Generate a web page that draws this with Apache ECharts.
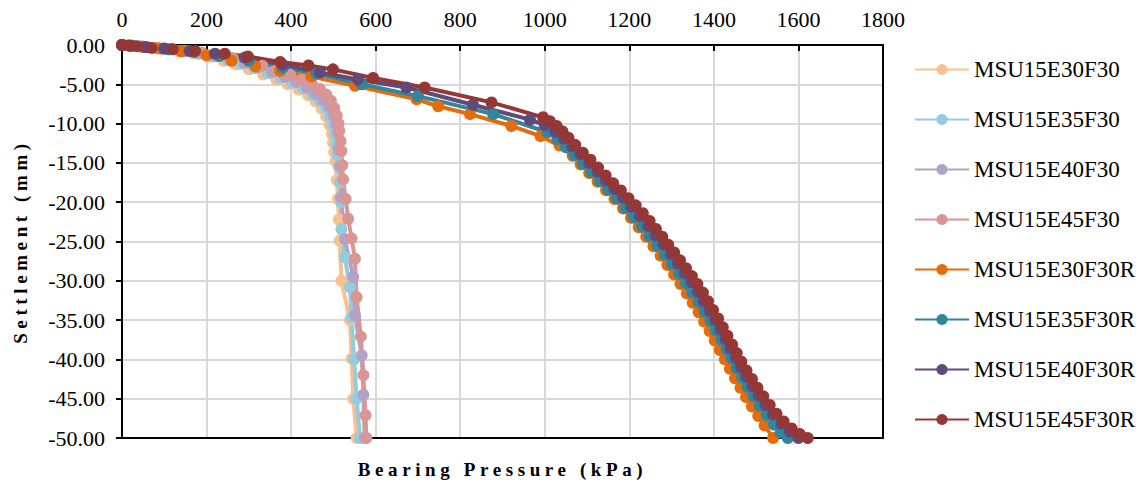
<!DOCTYPE html>
<html>
<head>
<meta charset="utf-8">
<script src="https://cdn.jsdelivr.net/npm/echarts@6/dist/echarts.min.js"></script>
<style>
  html, body { margin: 0; padding: 0; background: #fff; }
  #chart { width: 1147px; height: 484px; }
  /* axis titles are spaced out in the original */
  #chart text[style*="bold"] { letter-spacing: 4.6px; }
</style>
</head>
<body>
<div id="chart"></div>
<script>
// [bearing pressure kPa, settlement mm]
const e30f30 = [[0,0],[18,-0.1],[40,-0.2],[70,-0.35],[100,-0.55],[135,-0.8],[170,-1.1],[205,-1.5],[240,-2.0],[270,-2.5],[300,-3.1],[334,-3.75],[365,-4.4],[392,-5.0],[418,-5.7],[440,-6.4],[458,-7.2],[472,-8.1],[483,-9.1],[491,-10.2],[496,-11.3],[499,-12.4],[502,-13.6],[505,-14.8],[508,-17.2],[511,-19.6],[513,-22.2],[515,-24.9],[519,-30],[539,-35],[543,-39.9],[547,-45],[555,-50]];
const e35f30 = [[0,0],[20,-0.1],[45,-0.2],[75,-0.35],[110,-0.55],[145,-0.8],[180,-1.1],[215,-1.45],[250,-1.9],[280,-2.4],[312,-2.95],[345,-3.6],[375,-4.2],[402,-4.8],[428,-5.5],[450,-6.3],[468,-7.1],[482,-8.0],[492,-9.1],[499,-10.2],[504,-11.4],[507,-12.6],[510,-14.0],[513,-15.5],[516,-17.5],[518,-20.0],[519,-23.4],[527,-27],[539,-30.8],[543,-34.6],[549,-40],[555,-45],[563,-50]];
const e40f30 = [[0,0],[20,-0.1],[45,-0.2],[80,-0.35],[115,-0.55],[150,-0.8],[185,-1.05],[220,-1.4],[255,-1.8],[290,-2.3],[322,-2.85],[355,-3.45],[385,-4.05],[412,-4.7],[437,-5.4],[458,-6.2],[476,-7.0],[490,-7.9],[500,-8.9],[507,-10.0],[511,-11.2],[513,-13.3],[516,-15.4],[518,-19.4],[527,-24.7],[547,-29.5],[551,-34.4],[567,-39.5],[571,-44.5],[574,-50]];
const e45f30 = [[0,0],[22,-0.1],[48,-0.2],[82,-0.35],[118,-0.5],[155,-0.75],[190,-1.0],[225,-1.3],[262,-1.7],[298,-2.15],[332,-2.65],[366,-3.2],[398,-3.8],[425,-4.4],[450,-5.0],[468,-5.6],[483,-6.3],[494,-7.1],[502,-8.0],[508,-9.0],[512,-10.0],[514,-10.9],[517,-12.2],[519,-13.5],[521,-15.3],[523,-17.1],[529,-19.6],[535,-22.1],[543,-24.6],[551,-27.2],[555,-32.1],[565,-37.1],[571,-42],[576,-47.1],[578,-50]];
const e30f30r = [[0,0],[20,-0.1],[50,-0.25],[90,-0.45],[140,-0.8],[200,-1.3],[259,-2.0],[315,-2.7],[374,-3.3],[448,-4.0],[551,-5.2],[697,-6.9],[748,-7.8],[823,-8.8],[921,-10.3],[990,-11.6],[1035,-12.8],[1066,-14.1],[1085,-15.2],[1105,-16.3],[1125,-17.4],[1145,-18.5],[1165,-19.6],[1185,-20.8],[1204,-22.0],[1222,-23.2],[1240,-24.4],[1257,-25.6],[1274,-26.8],[1290,-28.0],[1306,-29.2],[1321,-30.4],[1336,-31.6],[1350,-32.8],[1364,-34.0],[1377,-35.2],[1390,-36.4],[1402,-37.6],[1414,-38.8],[1426,-40.0],[1438,-41.2],[1450,-42.4],[1463,-43.6],[1476,-44.8],[1490,-46.0],[1505,-47.2],[1520,-48.4],[1540,-50]];
const e35f30r = [[0,0],[25,-0.1],[60,-0.3],[110,-0.55],[170,-0.9],[230,-1.4],[300,-2.0],[380,-2.9],[460,-3.6],[567,-5.0],[700,-6.5],[878,-8.8],[1007,-11.1],[1030,-12.0],[1050,-13.0],[1070,-14.0],[1090,-15.1],[1110,-16.2],[1130,-17.3],[1150,-18.4],[1170,-19.5],[1190,-20.7],[1210,-21.9],[1230,-23.1],[1248,-24.3],[1266,-25.5],[1284,-26.7],[1301,-27.9],[1318,-29.1],[1334,-30.3],[1349,-31.5],[1364,-32.7],[1378,-33.9],[1392,-35.1],[1405,-36.3],[1418,-37.5],[1430,-38.7],[1442,-39.9],[1454,-41.1],[1467,-42.3],[1480,-43.5],[1494,-44.7],[1509,-45.9],[1525,-47.1],[1542,-48.3],[1558,-49.3],[1575,-50]];
const e40f30r = [[0,0],[20,-0.1],[55,-0.25],[100,-0.45],[160,-0.75],[220,-1.1],[290,-1.6],[380,-2.5],[468,-3.5],[558,-4.4],[673,-5.4],[830,-7.6],[965,-9.5],[1000,-10.2],[1025,-11.0],[1045,-11.9],[1065,-12.9],[1085,-13.9],[1105,-15.0],[1125,-16.1],[1145,-17.2],[1165,-18.3],[1185,-19.4],[1205,-20.6],[1225,-21.8],[1245,-23.0],[1263,-24.2],[1281,-25.4],[1298,-26.6],[1315,-27.8],[1331,-29.0],[1347,-30.2],[1362,-31.4],[1376,-32.6],[1390,-33.8],[1403,-35.0],[1416,-36.2],[1428,-37.4],[1440,-38.6],[1452,-39.8],[1464,-41.0],[1477,-42.2],[1491,-43.4],[1506,-44.6],[1522,-45.8],[1540,-47.0],[1560,-48.2],[1580,-49.2],[1600,-50]];
const e45f30r = [[0,0],[15,-0.05],[35,-0.15],[70,-0.37],[120,-0.55],[173,-0.75],[243,-1.1],[298,-1.45],[374,-2.15],[441,-2.6],[499,-3.1],[594,-4.2],[716,-5.4],[874,-7.3],[996,-9.2],[1012,-9.7],[1028,-10.3],[1042,-11.0],[1056,-11.8],[1072,-12.7],[1090,-13.7],[1108,-14.6],[1126,-15.6],[1144,-16.6],[1162,-17.6],[1180,-18.5],[1198,-19.5],[1215,-20.4],[1232,-21.4],[1248,-22.4],[1263,-23.4],[1278,-24.4],[1292,-25.4],[1306,-26.4],[1320,-27.4],[1334,-28.4],[1348,-29.4],[1361,-30.4],[1374,-31.5],[1386,-32.6],[1398,-33.7],[1410,-34.8],[1421,-35.9],[1432,-37.0],[1443,-38.1],[1454,-39.2],[1465,-40.3],[1477,-41.4],[1490,-42.5],[1503,-43.6],[1517,-44.7],[1532,-45.8],[1548,-46.9],[1565,-47.9],[1584,-48.8],[1603,-49.5],[1622,-50]];

const names = ['MSU15E30F30', 'MSU15E35F30', 'MSU15E40F30', 'MSU15E45F30',
  'MSU15E30F30R', 'MSU15E35F30R', 'MSU15E40F30R', 'MSU15E45F30R'];
const seriesData = [e30f30, e35f30, e40f30, e45f30, e30f30r, e35f30r, e40f30r, e45f30r];
const colors = ['#FAC090', '#93CDDD', '#B3A2C7', '#D99694', '#E46C0A', '#31859C', '#604A7B', '#953735'];

const font = 'Liberation Serif';

const option = {
  backgroundColor: '#fff',
  animation: false,
  color: colors,
  textStyle: { fontFamily: font },
  grid: { left: 122, right: 264, top: 45, bottom: 45 },
  legend: {
    orient: 'vertical',
    left: 909,
    top: 53,
    itemWidth: 54,
    itemHeight: 14,
    itemGap: 27,
    data: names,
    textStyle: { fontSize: 23, color: '#000', fontFamily: font },
  },
  xAxis: [
    {
      type: 'value',
      position: 'top',
      min: 0,
      max: 1800,
      interval: 200,
      axisLine: { lineStyle: { color: '#000', width: 2 } },
      axisTick: { inside: true, length: 6, lineStyle: { color: '#000', width: 2 } },
      axisLabel: { fontSize: 22, color: '#000', fontFamily: font, margin: 15, formatter: (v) => String(v) },
      splitLine: { lineStyle: { color: '#d9d9d9', width: 2 } },
    },
    {
      type: 'value',
      position: 'bottom',
      min: 0,
      max: 1800,
      name: 'Bearing Pressure (kPa)',
      nameLocation: 'middle',
      nameGap: 22,
      nameTextStyle: { fontSize: 19, fontWeight: 'bold', color: '#000', fontFamily: font },
      axisLine: { onZero: false, lineStyle: { color: '#000', width: 2 } },
      axisTick: { show: false },
      axisLabel: { show: false },
      splitLine: { show: false },
    },
  ],
  yAxis: [
    {
      type: 'value',
      min: -50,
      max: 0,
      interval: 5,
      name: 'Settlement (mm)',
      nameLocation: 'middle',
      nameGap: 92,
      nameTextStyle: { fontSize: 19, fontWeight: 'bold', color: '#000', fontFamily: font },
      axisLine: { onZero: false, lineStyle: { color: '#000', width: 2 } },
      axisTick: { length: 6, lineStyle: { color: '#000', width: 2 } },
      axisLabel: {
        fontSize: 22,
        color: '#000',
        fontFamily: font,
        margin: 17,
        formatter: (v) => v.toFixed(2),
      },
      splitLine: { lineStyle: { color: '#d9d9d9', width: 2 } },
    },
    {
      type: 'value',
      position: 'right',
      min: -50,
      max: 0,
      axisLine: { show: true, onZero: false, lineStyle: { color: '#000', width: 2 } },
      axisTick: { show: false },
      axisLabel: { show: false },
      splitLine: { show: false },
    },
  ],
  series: names.map((name, i) => ({
    name: name,
    type: 'line',
    data: seriesData[i],
    symbol: 'circle',
    symbolSize: 12,
    lineStyle: { width: 4 },
    itemStyle: { color: colors[i] },
  })),
};

const chart = echarts.init(document.getElementById('chart'), null, { renderer: 'svg' });
chart.setOption(option);
</script>
</body>
</html>
